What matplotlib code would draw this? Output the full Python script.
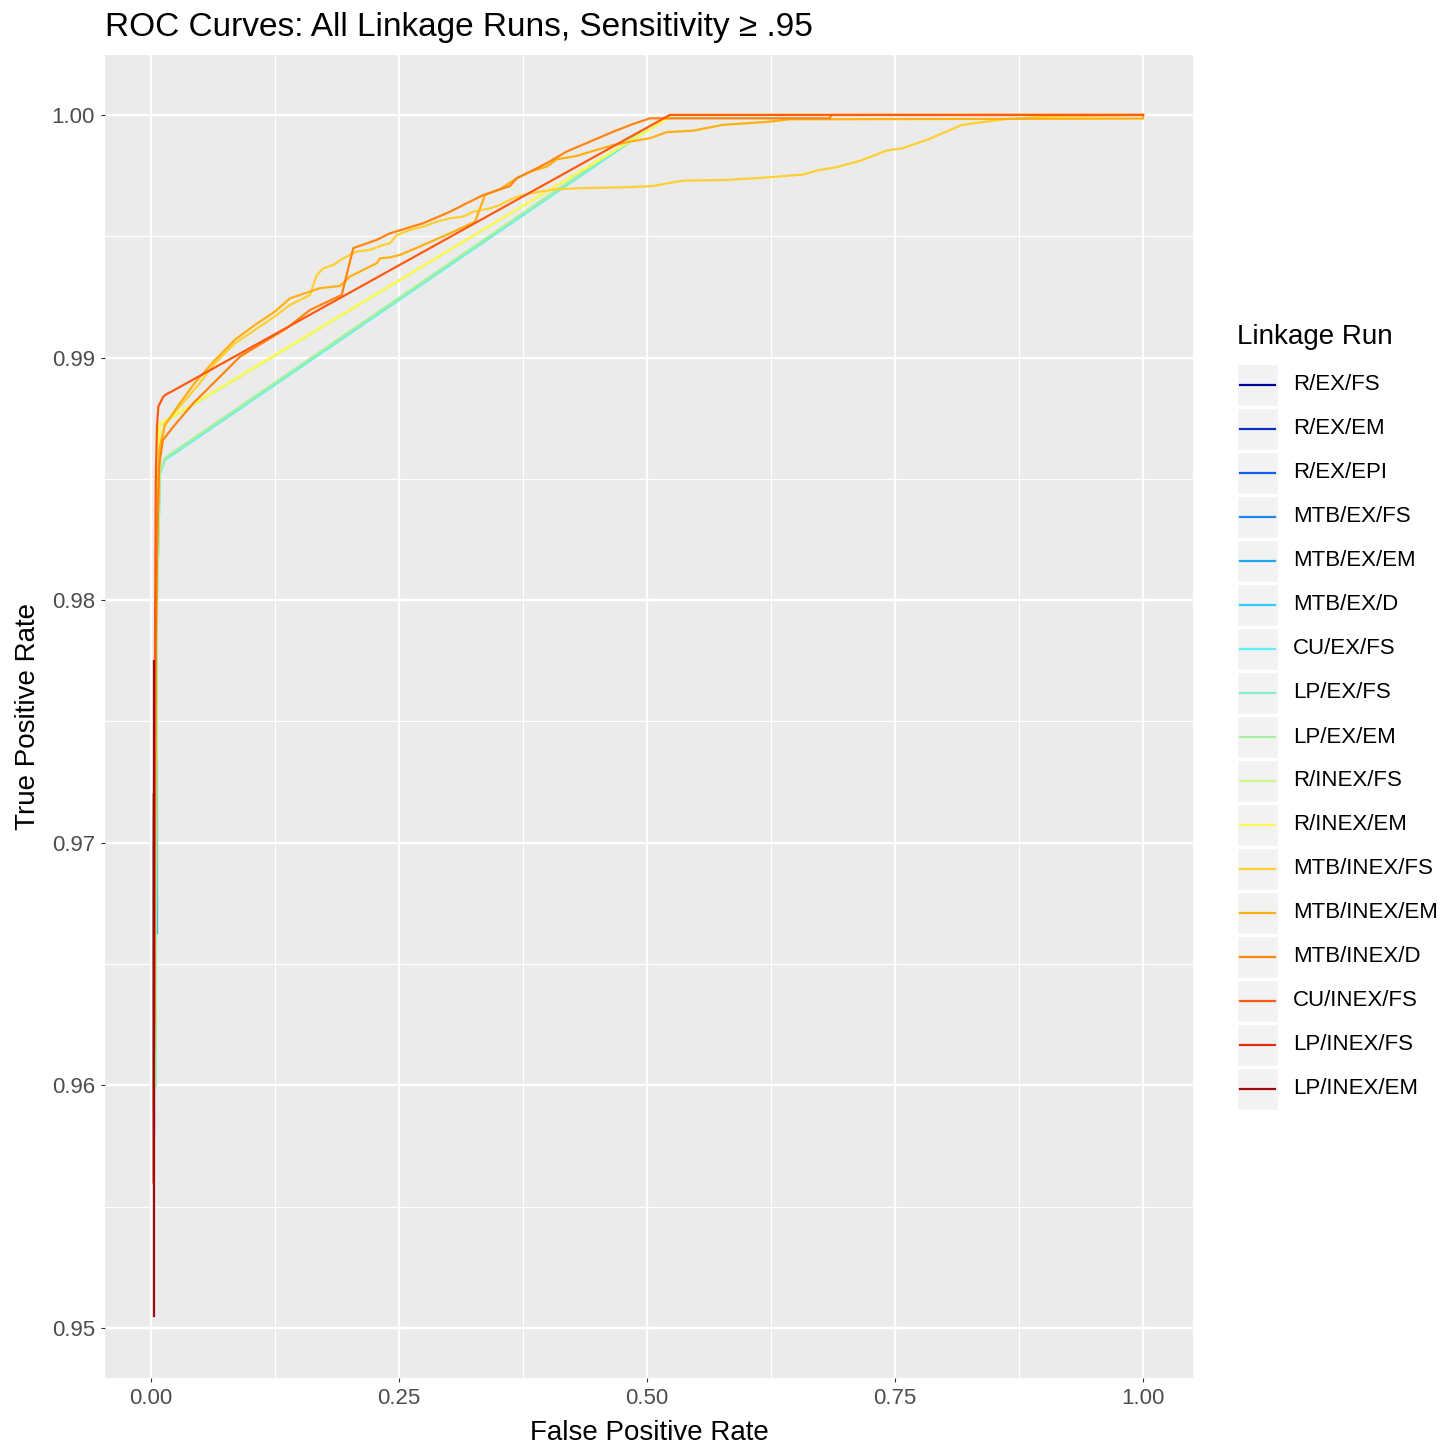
import matplotlib
matplotlib.use("Agg")
import matplotlib.pyplot as plt
from matplotlib.patches import Rectangle
from matplotlib.lines import Line2D

plt.rcParams["font.family"] = ["Liberation Sans", "DejaVu Sans"]

# -----------------------------
# Data
# -----------------------------
runs = ["R/EX/FS", "R/EX/EM", "R/EX/EPI", "MTB/EX/FS", "MTB/EX/EM", "MTB/EX/D",
        "CU/EX/FS", "LP/EX/FS", "LP/EX/EM", "R/INEX/FS", "R/INEX/EM",
        "MTB/INEX/FS", "MTB/INEX/EM", "MTB/INEX/D", "CU/INEX/FS",
        "LP/INEX/FS", "LP/INEX/EM"]

run_colors = ["#00009A", "#0A30C8", "#1060F0", "#1E88F0", "#1AAAF5", "#30CCFA",
              "#5EF0F8", "#80F0C8", "#A8F0A0", "#D0F888", "#FFF850",
              "#FFD030", "#FFB010", "#FF8410", "#FF5A10", "#E03010", "#A00A0A"]

r_ex_fs_fpr = [0.0030, 0.0030]
r_ex_fs_tpr = [0.9580, 0.9700]
r_ex_em_fpr = [0.0030, 0.0030]
r_ex_em_tpr = [0.9600, 0.9710]
r_ex_epi_fpr = [0.0030, 0.0030]
r_ex_epi_tpr = [0.9610, 0.9715]
mtb_ex_fs_fpr = [0.0030, 0.0030]
mtb_ex_fs_tpr = [0.9630, 0.9720]
mtb_ex_em_fpr = [0.0065, 0.0065]
mtb_ex_em_tpr = [0.9663, 0.9733]
mtb_ex_d_fpr = [0.0030, 0.0030]
mtb_ex_d_tpr = [0.9650, 0.9728]

cu_ex_fs_fpr = [0.0045, 0.0060, 0.0090, 0.0141, 0.5000]
cu_ex_fs_tpr = [0.9600, 0.9800, 0.98520, 0.98578, 0.99936]
lp_ex_fs_fpr = [0.0045, 0.0060, 0.0090, 0.0141, 0.5000]
lp_ex_fs_tpr = [0.9600, 0.9800, 0.98525, 0.98582, 0.99940]
lp_ex_em_fpr = [0.0045, 0.0060, 0.0090, 0.0141, 0.5000]
lp_ex_em_tpr = [0.9600, 0.9800, 0.98530, 0.98587, 0.99945]

r_inex_fs_fpr = [0.0040, 0.0060, 0.0085, 0.5270, 1.0]
r_inex_fs_tpr = [0.9760, 0.9840, 0.98720, 1.0, 1.0]
r_inex_em_fpr = [0.0042, 0.0062, 0.0085, 0.5270, 1.0]
r_inex_em_tpr = [0.9775, 0.9845, 0.98725, 1.0, 1.0]

mtb_inex_fs_fpr = [0.0036, 0.0050, 0.0065, 0.0101, 0.0141, 0.0275, 0.0477, 0.0645,
                   0.0847, 0.1048, 0.1250, 0.1401, 0.1603, 0.1670, 0.1737, 0.1838,
                   0.1939, 0.2073, 0.2208, 0.2342, 0.2409, 0.2477, 0.2611, 0.2745,
                   0.2880, 0.3014, 0.3149, 0.3249, 0.3417, 0.3518, 0.3652, 0.3753,
                   0.3921, 0.4090, 0.4325, 0.4795, 0.5064, 0.5198, 0.5366, 0.5806,
                   0.6230, 0.6568, 0.6736, 0.6905, 0.7157, 0.7414, 0.7580, 0.7839,
                   0.8176, 0.8600, 0.9020, 1.0]
mtb_inex_fs_tpr = [0.9640, 0.9790, 0.9840, 0.98660, 0.98729, 0.98791, 0.98887, 0.98977,
                   0.99059, 0.99114, 0.99170, 0.99217, 0.99258, 0.99340, 0.99368, 0.99382,
                   0.99409, 0.99437, 0.99444, 0.99464, 0.99471, 0.99505, 0.99526, 0.99540,
                   0.99560, 0.99574, 0.99581, 0.99601, 0.99615, 0.99629, 0.99657, 0.99670,
                   0.99684, 0.99694, 0.99698, 0.99702, 0.99707, 0.99718, 0.99729, 0.99732,
                   0.99743, 0.99754, 0.99773, 0.99784, 0.99812, 0.99853, 0.99863, 0.99900,
                   0.99959, 0.99982, 0.99993, 1.0]

mtb_inex_em_fpr = [0.0034, 0.0048, 0.0060, 0.0085, 0.0141, 0.0270, 0.0450, 0.0645,
                   0.0850, 0.1050, 0.1250, 0.1401, 0.1704, 0.1905, 0.2006, 0.2275,
                   0.2308, 0.2409, 0.2510, 0.2745, 0.3014, 0.3266, 0.3367, 0.3518,
                   0.3686, 0.3821, 0.3989, 0.4090, 0.4291, 0.4493, 0.4660, 0.4829,
                   0.5030, 0.5198, 0.5464, 0.5763, 0.6230, 0.6440, 1.0, 1.0]
mtb_inex_em_tpr = [0.9625, 0.9780, 0.9820, 0.98620, 0.98720, 0.98800, 0.98900, 0.98990,
                   0.99075, 0.99135, 0.99190, 0.99244, 0.99286, 0.99295, 0.99334, 0.99389,
                   0.99409, 0.99413, 0.99423, 0.99464, 0.99512, 0.99560, 0.99670, 0.99694,
                   0.99739, 0.99766, 0.99787, 0.99817, 0.99831, 0.99856, 0.99876, 0.99890,
                   0.99904, 0.99929, 0.99935, 0.99959, 0.99972, 0.99982, 0.99985, 1.0]

mtb_inex_d_fpr = [0.0032, 0.0045, 0.0055, 0.0080, 0.0120, 0.0225, 0.0427, 0.0729,
                  0.0897, 0.1368, 0.1603, 0.1922, 0.2039, 0.2275, 0.2409, 0.2745,
                  0.3014, 0.3182, 0.3350, 0.3619, 0.3686, 0.3821, 0.3989, 0.4190,
                  0.4425, 0.4660, 0.4862, 0.5030, 0.6840, 0.6860, 1.0]
mtb_inex_d_tpr = [0.9615, 0.9760, 0.9810, 0.98550, 0.98660, 0.98715, 0.98812, 0.98935,
                  0.99004, 0.99121, 0.99196, 0.99258, 0.99451, 0.99485, 0.99512, 0.99554,
                  0.99601, 0.99636, 0.99670, 0.99707, 0.99739, 0.99766, 0.99801, 0.99849,
                  0.99890, 0.99931, 0.99963, 0.99986, 0.99986, 1.0, 1.0]

cu_inex_fs_fpr = [0.0028, 0.0040, 0.0048, 0.0060, 0.0074, 0.0124, 0.0160, 0.0208, 0.5230, 1.0]
cu_inex_fs_tpr = [0.9590, 0.9780, 0.9850, 0.9872, 0.98798, 0.98839, 0.98850, 0.98860, 1.0, 1.0]

lp_inex_fs_fpr = [0.0026, 0.0028]
lp_inex_fs_tpr = [0.9560, 0.9720]
lp_inex_em_fpr = [0.0030, 0.0030]
lp_inex_em_tpr = [0.9505, 0.9775]

run_fpr = [r_ex_fs_fpr, r_ex_em_fpr, r_ex_epi_fpr, mtb_ex_fs_fpr, mtb_ex_em_fpr, mtb_ex_d_fpr,
           cu_ex_fs_fpr, lp_ex_fs_fpr, lp_ex_em_fpr, r_inex_fs_fpr, r_inex_em_fpr,
           mtb_inex_fs_fpr, mtb_inex_em_fpr, mtb_inex_d_fpr, cu_inex_fs_fpr,
           lp_inex_fs_fpr, lp_inex_em_fpr]
run_tpr = [r_ex_fs_tpr, r_ex_em_tpr, r_ex_epi_tpr, mtb_ex_fs_tpr, mtb_ex_em_tpr, mtb_ex_d_tpr,
           cu_ex_fs_tpr, lp_ex_fs_tpr, lp_ex_em_tpr, r_inex_fs_tpr, r_inex_em_tpr,
           mtb_inex_fs_tpr, mtb_inex_em_tpr, mtb_inex_d_tpr, cu_inex_fs_tpr,
           lp_inex_fs_tpr, lp_inex_em_tpr]

x_ticks = [0.0, 0.25, 0.5, 0.75, 1.0]
x_labels = ["0.00", "0.25", "0.50", "0.75", "1.00"]
y_ticks = [0.95, 0.96, 0.97, 0.98, 0.99, 1.00]
y_labels = ["0.95", "0.96", "0.97", "0.98", "0.99", "1.00"]

# -----------------------------
# Figure / panel
# -----------------------------
W, H = 1455, 1445
fig = plt.figure(figsize=(W / 100, H / 100), dpi=100)
ax = fig.add_axes([105 / W, 1 - 1378 / H, (1193 - 105) / W, (1378 - 55) / H])
ax.set_facecolor("#EBEBEB")
for s in ax.spines.values():
    s.set_visible(False)

ax.set_xlim(-0.0464, 1.0504)
ax.set_ylim(0.94794, 1.00247)

ax.set_xticks(x_ticks)
ax.set_xticklabels(x_labels)
ax.set_yticks(y_ticks)
ax.set_yticklabels(y_labels)
ax.set_xticks([0.125, 0.375, 0.625, 0.875], minor=True)
ax.set_yticks([0.955, 0.965, 0.975, 0.985, 0.995], minor=True)
ax.grid(which="major", color="white", linewidth=1.7)
ax.grid(which="minor", color="white", linewidth=0.85)
ax.set_axisbelow(True)
ax.tick_params(which="major", length=3.2, width=0.8, color="#333333",
               labelsize=16, labelcolor="#4D4D4D", pad=4)
ax.tick_params(which="minor", length=0)

for fpr, tpr, col in zip(run_fpr, run_tpr, run_colors):
    ax.plot(fpr, tpr, color=col, linewidth=1.6, solid_joinstyle="round")

ax.set_xlabel("False Positive Rate", fontsize=20, labelpad=8)
ax.set_ylabel("True Positive Rate", fontsize=20, labelpad=8)

fig.text(105 / W, 1 - 36 / H, "ROC Curves: All Linkage Runs, Sensitivity \u2265 .95",
         fontsize=24, ha="left", va="baseline")

# -----------------------------
# Legend (ggplot style keys)
# -----------------------------
fig.text(1237 / W, 1 - 337 / H, "Linkage Run", fontsize=20, ha="left", va="center")
for i, (name, col) in enumerate(zip(runs, run_colors)):
    yc = 385 + 44 * i
    fig.add_artist(Rectangle((1237 / W, 1 - (yc + 21) / H), 41 / W, 42 / H,
                             transform=fig.transFigure, facecolor="#F2F2F2",
                             edgecolor="white", linewidth=1.0))
    fig.add_artist(Line2D([1240 / W, 1275 / W], [1 - yc / H, 1 - yc / H],
                          transform=fig.transFigure, color=col, linewidth=1.6))
    fig.text(1293 / W, 1 - yc / H, name, fontsize=16, ha="left", va="center")

fig.savefig("out.png", dpi=100)
